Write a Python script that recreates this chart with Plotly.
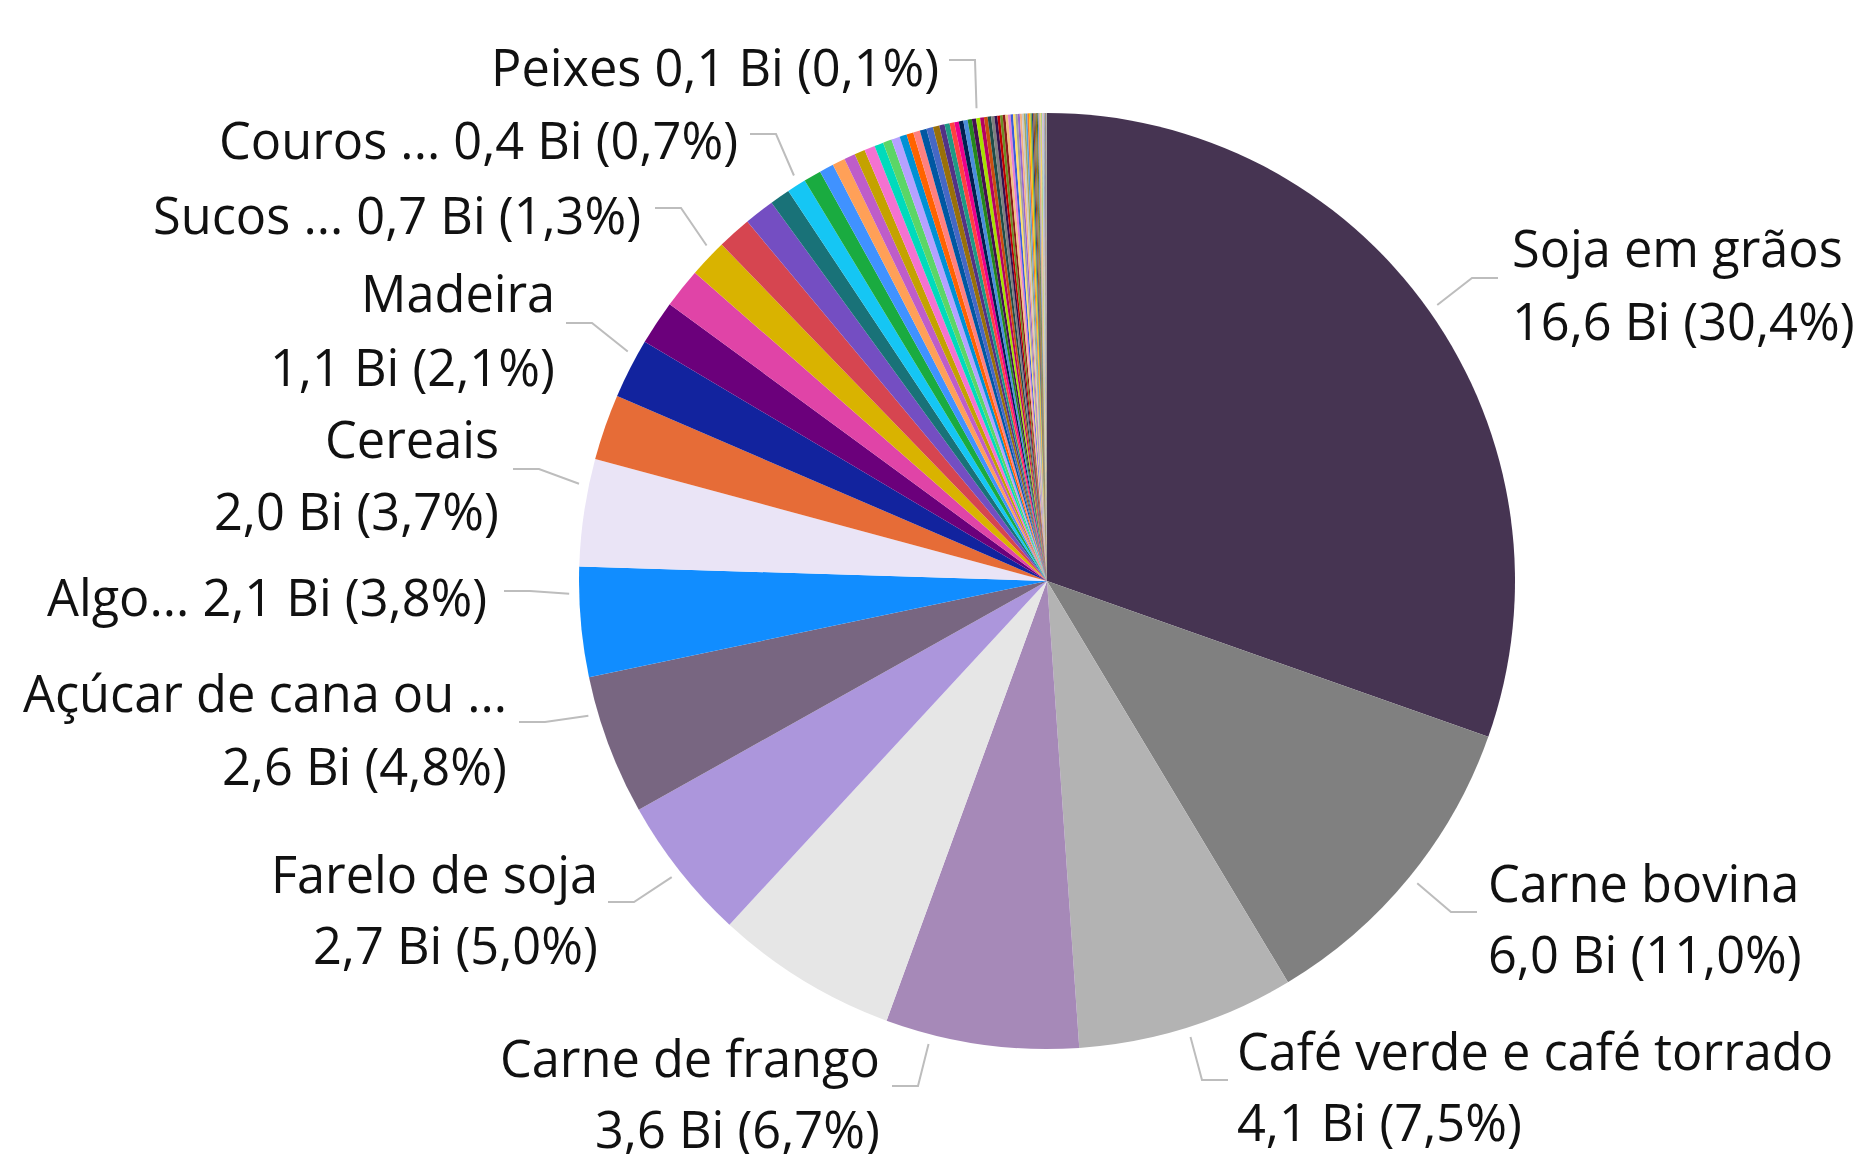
import math
import plotly.graph_objects as go

W, H = 1857, 1154

# ---------------- data (values in R$ Bi, sorted descending) ----------------
main_categories = [
    "Soja em grãos", "Carne bovina", "Café verde e café torrado", "Carne de frango",
    "Produto 05", "Farelo de soja", "Açúcar de cana ou de beterraba", "Algodão",
    "Cereais", "Produto 10", "Madeira", "Produto 12", "Produto 13",
    "Sucos de frutas", "Produto 15", "Produto 16", "Produto 17", "Couros e peles",
]
main_values = [16.6, 6.0, 4.1, 3.64, 3.44, 2.73, 2.64, 2.07, 2.02, 1.24, 1.13,
               0.84, 0.75, 0.72, 0.64, 0.57, 0.38, 0.36]

mid_values = [0.33, 0.27, 0.24, 0.21, 0.20, 0.20, 0.17, 0.165, 0.16, 0.135,
              0.13, 0.128, 0.127, 0.125]

top_categories_named = {9: "Peixes"}   # index within top group
top_values = [0.12, 0.10, 0.095, 0.09, 0.085, 0.085, 0.082, 0.08, 0.078, 0.076,
              0.072, 0.07, 0.065, 0.06, 0.055, 0.05]

thin_values = [0.05, 0.05, 0.05, 0.048, 0.046, 0.044, 0.042, 0.04, 0.038, 0.036,
               0.034, 0.032, 0.03, 0.028, 0.026, 0.025, 0.024, 0.022, 0.02, 0.019,
               0.018, 0.017, 0.016, 0.015, 0.014, 0.013, 0.012, 0.011, 0.01, 0.009,
               0.008, 0.007, 0.006, 0.005, 0.004, 0.003, 0.002, 0.001, 0.001]

# labels shown on the chart (category -> displayed name)
label_categories = ["Soja em grãos", "Carne bovina", "Café verde e café torrado",
                    "Carne de frango", "Farelo de soja", "Açúcar de cana ou de beterraba",
                    "Algodão", "Cereais", "Madeira", "Sucos de frutas",
                    "Couros e peles", "Peixes"]
label_display = ["Soja em grãos", "Carne bovina", "Café verde e café torrado",
                 "Carne de frango", "Farelo de soja", "Açúcar de cana ou ...",
                 "Algo...", "Cereais", "Madeira", "Sucos ...", "Couros ...", "Peixes"]

# ---------------- styles ----------------
main_colors = ["#463452", "#808080", "#B3B3B3", "#A689B8", "#E6E6E6", "#AC96DC",
               "#786681", "#118DFF", "#EAE4F6", "#E66C37", "#12239E", "#6B007B",
               "#E044A7", "#D9B300", "#D64550", "#744EC2", "#197278", "#15C6F4"]
mid_colors = ["#1AAB40", "#4092FF", "#FFA058", "#BE5DC9", "#C4A200", "#F472D0",
              "#00DBBC", "#5BD667", "#B5A1FF", "#0091D5", "#FF6300", "#FF8080",
              "#0057A2", "#4668C5"]
top_colors = ["#99700A", "#533285", "#1F9A85", "#FF4141", "#EC008C", "#002050",
              "#4A8DDC", "#25891C", "#450F54", "#A6E000", "#B60064", "#C94F0F",
              "#1E4D4A", "#7F7F7F", "#34124F", "#C00000"]
thin_colors = ["#6B8E23", "#8B1A1A", "#F2C080", "#E67FD0", "#3B5BDB", "#FFE066",
               "#A0A0A0", "#9966CC", "#F4B183", "#C9C9C9", "#A9A95C", "#5B9BD5",
               "#ED7D31", "#FFC000", "#70AD47", "#264478", "#9E480E", "#636363",
               "#997300", "#43682B", "#698ED0", "#F1975A", "#B7B7B7", "#FFCD33",
               "#8CC168", "#D6A2E8", "#7FD8BE", "#E8A0A0", "#4472C4", "#A5A5A5",
               "#C55A11", "#2F5597", "#BF9000", "#548235", "#7030A0", "#FF99CC",
               "#00B0F0", "#92D050", "#D9D9D9"]

# pie geometry in pixels (center, radius)
CX, CY, R = 1047, 581, 468
LEAD_R = 478

# label layout: side, text x, text line y's, leader elbow, start angle nudge (deg)
label_side = ["r", "r", "r", "l", "l", "l", "l", "l", "l", "l", "l", "l"]
label_tx = [1510, 1486, 1235, 882, 600, 509, 489, 501, 557, 643, 740, 941]
label_ty = [(247, 320), (882, 953), (1050, 1121), (1057, 1128), (873, 944),
            (692, 765), (596,), (438, 510), (292, 366), (214,), (139,), (66,)]
label_elbow = [(1472, 278), (1451, 912), (1202, 1080), (918, 1086), (634, 902),
               (545, 722), (530, 591), (539, 469), (592, 323), (681, 208),
               (776, 134), (975, 60)]
label_nudge = [0, 0, 0, 6.3, 0, 4.2, 3.5, 3.3, 1.7, 1.0, 0.4, 0.0]

FONT = "Segoe UI, Open Sans, sans-serif"
FS = 50.5

# ---------------- assemble ----------------
categories = list(main_categories)
categories += [f"Produto {19 + i:02d}" for i in range(len(mid_values))]
n0 = len(categories)
categories += [top_categories_named.get(i, f"Produto {n0 + 1 + i:02d}") for i in range(len(top_values))]
n1 = len(categories)
categories += [f"Produto {n1 + 1 + i:02d}" for i in range(len(thin_values))]
values = main_values + mid_values + top_values + thin_values
colors = main_colors + mid_colors + top_colors + thin_colors

total = sum(values)
cum = []
acc = 0.0
for v in values:
    acc += v
    cum.append(acc)


def fmt(x):
    return f"{x:.1f}".replace(".", ",")


fig = go.Figure()
fig.add_trace(go.Pie(
    labels=categories, values=values, sort=False, direction="clockwise",
    rotation=0, textinfo="none", marker=dict(colors=colors, line=dict(width=0)),
    domain=dict(x=[(CX - R) / W, (CX + R) / W], y=[(H - CY - R) / H, (H - CY + R) / H]),
    showlegend=False, hovertemplate="%{label}<br>%{value:.2f} Bi (%{percent})<extra></extra>",
))

lx, ly = [], []
annotations = []
for k, cat in enumerate(label_categories):
    i = categories.index(cat)
    v = values[i]
    mid_deg = (cum[i] - v / 2) / total * 360 + label_nudge[k]
    a = math.radians(mid_deg)
    sx = CX + LEAD_R * math.sin(a)
    sy = CY - LEAD_R * math.cos(a)
    ex, ey = label_elbow[k]
    right = label_side[k] == "r"
    endx = ex + 26 if right else ex - 26
    lx += [sx, ex, endx, None]
    ly += [sy, ey, ey, None]
    valtxt = f"{fmt(v)} Bi ({fmt(v / total * 100)}%)"
    ys = label_ty[k]
    if len(ys) == 2:
        lines = [label_display[k], valtxt]
    else:
        lines = [f"{label_display[k]} {valtxt}"]
    for t, y in zip(lines, ys):
        annotations.append(dict(
            x=label_tx[k], y=y, xref="x", yref="y", text=t, showarrow=False,
            xanchor="left" if right else "right", yanchor="middle",
            font=dict(family=FONT, size=FS, color="#111111"),
        ))

fig.add_trace(go.Scatter(x=lx, y=ly, mode="lines", line=dict(color="#BDBDBD", width=2),
                         hoverinfo="skip", showlegend=False))

fig.update_layout(
    width=W, height=H, margin=dict(l=0, r=0, t=0, b=0),
    paper_bgcolor="white", plot_bgcolor="rgba(0,0,0,0)",
    xaxis=dict(range=[0, W], visible=False, fixedrange=True),
    yaxis=dict(range=[H, 0], visible=False, fixedrange=True),
    annotations=annotations, showlegend=False,
)

fig.write_html("out.html", config={"displayModeBar": False},
               post_script="document.body.style.margin='0';document.body.style.overflow='hidden';")
